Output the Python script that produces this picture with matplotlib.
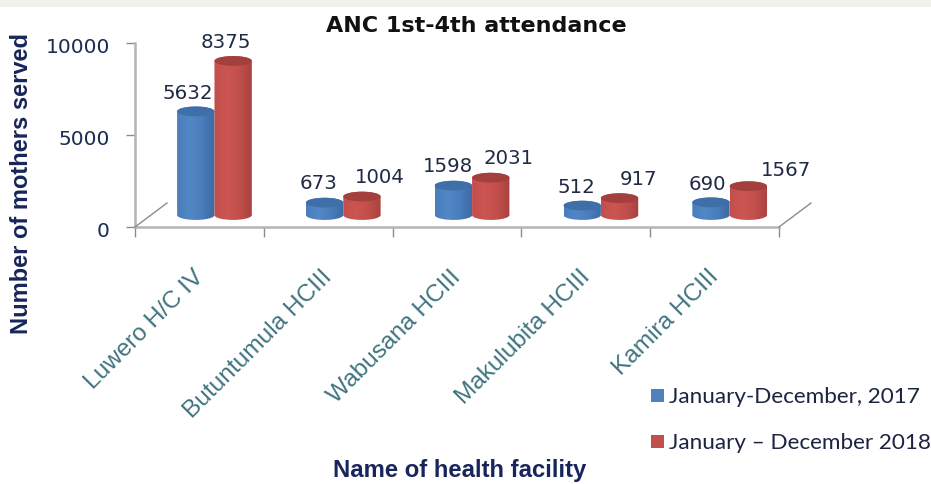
import numpy as np
import matplotlib
matplotlib.use("Agg")
import matplotlib.pyplot as plt
from matplotlib.patches import PathPatch, Rectangle
from matplotlib.path import Path
from matplotlib.colors import LinearSegmentedColormap
from matplotlib.transforms import ScaledTranslation

# Data
facilities = ["Luwero H/C IV", "Butuntumula HCIII", "Wabusana HCIII", "Makulubita HCIII", "Kamira HCIII"]
values_2017 = [5632, 673, 1598, 512, 690]
values_2018 = [8375, 1004, 2031, 917, 1567]
series_names = ["January-December, 2017", "January \u2013 December 2018"]
y_ticks = [0, 5000, 10000]

# Layout (pixels of the 931x485 picture)
W, H = 931, 485
floor = 650      # height of the chart floor in value units
bar_w = 0.29
shift = 0.117    # bars sit back on the floor, so they look shifted right
ell = 265        # half height of the cylinder ellipses in value units

# label offsets in pixels from the top centre of each cylinder
offs_2017 = [(-8, 19), (-6, 20), (-5, 20), (-6, 19), (-4, 19)]
offs_2018 = [(-7, 19), (18, 20), (18, 20), (19, 20), (38, 17)]

fig = plt.figure(figsize=(W / 100, H / 100), dpi=100, facecolor="white")
fig.patches.append(Rectangle((0, 1 - 8 / H), 1, 8 / H, transform=fig.transFigure, color="#f1f1ee", lw=0))
ax = fig.add_axes([135 / W, 1 - 228 / H, 644 / W, 184 / H])
ax.patch.set_alpha(0)
ax.set_xlim(0, 5)
ax.set_ylim(0, 10000)


def cylinder(xc, value, light, mid, dark, top):
    y_top = floor + value
    t = np.linspace(0, np.pi, 40)
    xs = xc + bar_w / 2 * np.cos(t)
    side = np.concatenate([
        np.column_stack([xs, y_top + ell * np.sin(t)]),
        np.column_stack([xs[::-1], floor - ell * np.sin(t)]),
    ])
    patch = PathPatch(Path(np.vstack([side, side[:1]])), fc="none", ec="none")
    ax.add_patch(patch)
    cmap = LinearSegmentedColormap.from_list("c", [mid, light, mid, dark])
    im = ax.imshow(np.linspace(0, 1, 64)[None, :], cmap=cmap, aspect="auto", zorder=2,
                   extent=(xc - bar_w / 2, xc + bar_w / 2, floor - ell, y_top + ell))
    im.set_clip_path(patch)
    t2 = np.linspace(0, 2 * np.pi, 60)
    ax.fill(xc + bar_w / 2 * np.cos(t2), y_top + ell * np.sin(t2), color=top, lw=0, zorder=3)


for i in range(len(facilities)):
    c = i + 0.5 + shift
    xb, xr = c - bar_w / 2, c + bar_w / 2
    cylinder(xb, values_2017[i], "#5287c6", "#4a7dbb", "#3c6aa3", "#3f6fa8")
    cylinder(xr, values_2018[i], "#cc5552", "#c24f4c", "#a84240", "#a33f3d")
    ax.annotate(str(values_2017[i]), (xb, floor + values_2017[i]), xytext=offs_2017[i], textcoords="offset pixels",
                ha="center", va="center", fontsize=14.2, color="#1f2a44", zorder=5, annotation_clip=False)
    ax.annotate(str(values_2018[i]), (xr, floor + values_2018[i]), xytext=offs_2018[i], textcoords="offset pixels",
                ha="center", va="center", fontsize=14.2, color="#1f2a44", zorder=5, annotation_clip=False)

# axes
grey = "#b4b4b4"
for s in ["top", "right"]:
    ax.spines[s].set_visible(False)
for s in ["left", "bottom"]:
    ax.spines[s].set_color(grey)
    ax.spines[s].set_linewidth(1.8)
ax.set_yticks(y_ticks)
ax.set_yticklabels([str(v) for v in y_ticks], fontsize=14.5, color="#1a2a52")
ax.tick_params(axis="y", length=6.5, width=1, color="#8c8c8c", pad=11.5)
for lab in ax.get_yticklabels():
    lab.set_transform(lab.get_transform() + ScaledTranslation(0, -2 / 100, fig.dpi_scale_trans))
ax.set_xticks(range(len(facilities) + 1))
ax.set_xticklabels([])
ax.tick_params(axis="x", length=7, width=1, color="#8c8c8c")

# floor edges going back at both ends
for px in (135, 779):
    fig.add_artist(plt.Line2D([px / W, (px + 32) / W], [1 - 228 / H, 1 - 204 / H], color="#8c8c8c", lw=1))

# category labels
for i, name in enumerate(facilities):
    ax.annotate(name, (i + 0.5, 0), xytext=(-7, -38), textcoords="offset pixels", rotation=45, rotation_mode="anchor",
                ha="right", va="top", fontsize=17.6, color="#3f7480", family="Liberation Sans", annotation_clip=False)

fig.text(476 / W, 1 - 26 / H, "ANC 1st-4th attendance", ha="center", va="center", fontsize=16,
         fontweight="bold", color="#111111")
fig.text(22 / W, 1 - 184 / H, "Number of mothers served", rotation=90, ha="center", va="center", fontsize=17,
         fontweight="bold", color="#17255a", family="Liberation Sans")
fig.text(460 / W, 1 - 471 / H, "Name of health facility", ha="center", va="center", fontsize=17.2,
         fontweight="bold", color="#17255a", family="Liberation Sans")

# legend
for name, col, y in zip(series_names, ["#4f81bd", "#c0504d"], [397, 443]):
    fig.patches.append(Rectangle((651 / W, 1 - (y + 6) / H), 13 / W, 13 / H, transform=fig.transFigure, color=col, lw=0))
    fig.text(669 / W, 1 - y / H, name, ha="left", va="center", fontsize=16.2, color="#1c2440", family="Lato")

fig.savefig("out.png", dpi=100)
